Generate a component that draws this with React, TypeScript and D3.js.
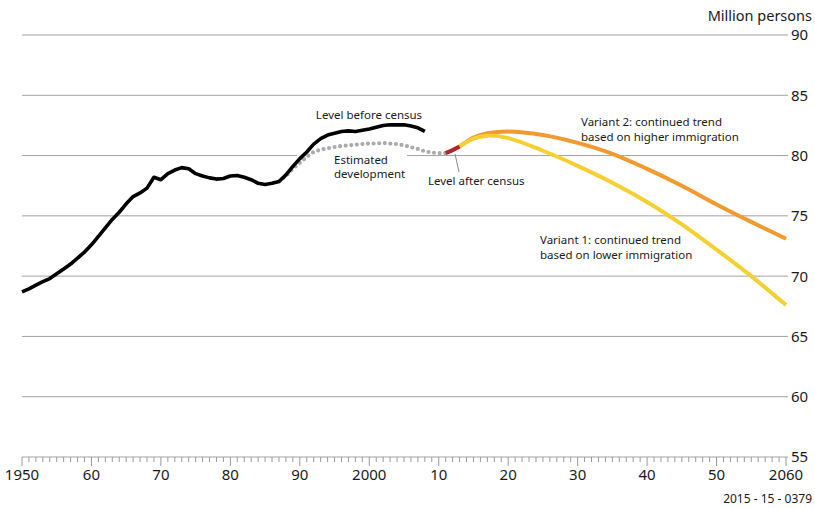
import * as d3 from 'd3'

// Population, million persons
const histYears = d3.range(1950, 2009)
const histValues = [
  68.7, 68.95, 69.25, 69.55, 69.8, 70.2, 70.6, 71.0, 71.5, 72.0,
  72.6, 73.3, 74.0, 74.7, 75.3, 76.0, 76.6, 76.9, 77.3, 78.2,
  78.0, 78.5, 78.8, 79.0, 78.9, 78.5, 78.3, 78.15, 78.05, 78.1,
  78.3, 78.35, 78.2, 78.0, 77.7, 77.6, 77.7, 77.85, 78.4, 79.1,
  79.75, 80.3, 80.95, 81.4, 81.7, 81.85, 82.0, 82.05, 82.0, 82.1,
  82.2, 82.35, 82.5, 82.55, 82.55, 82.55, 82.45, 82.3, 82.0,
]

const estYears = d3.range(1987, 2012)
const estValues = [
  77.85, 78.3, 78.9, 79.4, 79.9, 80.3, 80.5, 80.6, 80.7, 80.8,
  80.85, 80.9, 80.95, 81.0, 81.0, 81.05, 81.0, 80.95, 80.85, 80.7,
  80.55, 80.35, 80.25, 80.2, 80.2,
]

const censusYears = [2011, 2012, 2013]
const censusValues = [80.2, 80.45, 80.75]

const v2Years = [2013, 2015, 2017, 2020, 2025, 2030, 2035, 2040, 2045, 2050, 2055, 2060]
const v2Values = [80.75, 81.5, 81.85, 82.0, 81.7, 81.05, 80.15, 78.9, 77.5, 75.95, 74.5, 73.1]

const v1Years = [2013, 2015, 2017, 2020, 2025, 2030, 2035, 2040, 2045, 2050, 2055, 2060]
const v1Values = [80.75, 81.4, 81.65, 81.45, 80.4, 79.15, 77.75, 76.15, 74.3, 72.2, 70.0, 67.6]

const yTicks = [55, 60, 65, 70, 75, 80, 85, 90]
const xMajor = [1950, 1960, 1970, 1980, 1990, 2000, 2010, 2020, 2030, 2040, 2050, 2060]
const xLabels = ['1950', '60', '70', '80', '90', '2000', '10', '20', '30', '40', '50', '2060']

const FONT = '"Noto Sans", "Open Sans", sans-serif'

export default function App() {
  const width = 815
  const height = 508
  const x = d3.scaleLinear().domain([1950, 2060]).range([22, 786])
  const y = d3.scaleLinear().domain([55, 90]).range([457, 35])

  const line = (years: number[], vals: number[], curve: d3.CurveFactory = d3.curveLinear) =>
    d3.line<number>()
      .x((_, i) => x(years[i]))
      .y(d => y(d))
      .curve(curve)(vals) || ''

  const minor = d3.range(1950, 2061)

  return (
    <svg width={width} height={height} style={{ position: 'absolute', left: 0, top: 0, fontFamily: FONT }}>
      <rect width={width} height={height} fill="#fff" />

      {/* grid */}
      {yTicks.map(t => (
        <g key={t}>
          <line x1={x(1950)} x2={788} y1={y(t)} y2={y(t)} stroke="#a3a3a3" strokeWidth={1} />
          <text x={791} y={y(t)} dy="0.36em" fontSize={15} fill="#1a1a1a">{t}</text>
        </g>
      ))}
      <text x={812} y={21} textAnchor="end" fontSize={14.5} fill="#1a1a1a">Million persons</text>

      {/* x axis ticks */}
      {minor.map(yr => (
        <line key={yr} x1={x(yr)} x2={x(yr)} y1={y(55)} y2={y(55) + (yr % 10 === 0 ? 9 : 5)}
          stroke="#9a9a9a" strokeWidth={1} />
      ))}
      {xMajor.map((yr, i) => (
        <text key={yr} x={x(yr)} y={480} textAnchor="middle" fontSize={15} fill="#1a1a1a">{xLabels[i]}</text>
      ))}

      {/* label knockout */}
      <rect x={297} y={147} width={110} height={36} fill="#fff" />

      {/* series */}
      <path d={line(estYears, estValues)} fill="none" stroke="#ababab" strokeWidth={4.2}
        strokeLinecap="round" strokeDasharray="0 5.6" />
      <path d={line(histYears, histValues)} fill="none" stroke="#000" strokeWidth={3.6}
        strokeLinejoin="round" />
      <path d={line(v2Years, v2Values, d3.curveCatmullRom)} fill="none" stroke="#f19a30" strokeWidth={4} />
      <path d={line(v1Years, v1Values, d3.curveCatmullRom)} fill="none" stroke="#f6d033" strokeWidth={4} />
      <path d={line(censusYears, censusValues)} fill="none" stroke="#b0262a" strokeWidth={4} />

      {/* annotations */}
      <line x1={455} y1={154} x2={459} y2={172} stroke="#8c8c8c" strokeWidth={1} />
      <g fontSize={11.5} fill="#1a1a1a">
        <text x={369} y={119} textAnchor="middle">Level before census</text>
        <text x={334} y={164}>Estimated</text>
        <text x={334} y={178}>development</text>
        <text x={428} y={185}>Level after census</text>
        <text x={581} y={126}>Variant 2: continued trend</text>
        <text x={581} y={141}>based on higher immigration</text>
        <text x={540} y={244}>Variant 1: continued trend</text>
        <text x={540} y={259}>based on lower immigration</text>
      </g>

      <text x={812} y={503} textAnchor="end" fontSize={12} fill="#1a1a1a">2015 - 15 - 0379</text>
    </svg>
  )
}
